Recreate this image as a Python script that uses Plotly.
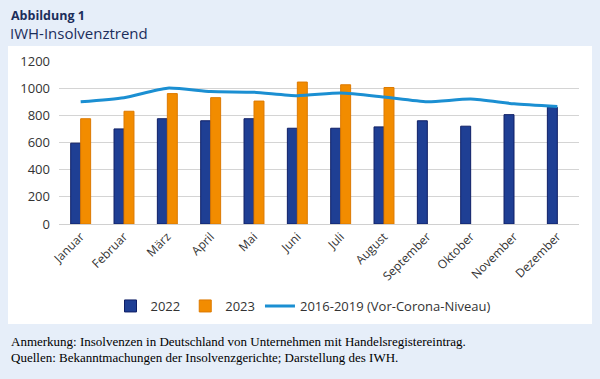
import plotly.graph_objects as go

months = ["Januar", "Februar", "März", "April", "Mai", "Juni", "Juli",
          "August", "September", "Oktober", "November", "Dezember"]
v2022 = [595, 700, 775, 760, 775, 705, 705, 715, 760, 720, 805, 860]
v2023 = [775, 830, 960, 930, 905, 1045, 1025, 1005, None, None, None, None]
vor_corona = [900, 930, 1000, 975, 970, 945, 965, 935, 900, 920, 885, 865]
y_ticks = [0, 200, 400, 600, 800, 1000, 1200]

W, H = 600, 379
L, R, T, B = 59, 21, 61, 155
pw, ph = W - L - R, H - T - B


def px(x):
    return (x - L) / pw


def py(y):
    return (H - B - y) / ph


FONT = "Open Sans"
TXT = "#333333"

fig = go.Figure()
fig.add_trace(go.Bar(
    x=months, y=v2022, name="2022",
    marker=dict(color="#1f3f94", line=dict(color="#0f1f66", width=1)),
))
fig.add_trace(go.Bar(
    x=months, y=v2023, name="2023",
    marker=dict(color="#f28c00", line=dict(color="#dd7a00", width=1)),
))
fig.add_trace(go.Scatter(
    x=months, y=vor_corona, name="2016-2019 (Vor-Corona-Niveau)",
    mode="lines", line=dict(color="#1b8fd2", width=3, shape="spline", smoothing=0.6),
))

fig.update_layout(
    width=W, height=H,
    margin=dict(l=L, r=R, t=T, b=B),
    paper_bgcolor="#e6eef9",
    plot_bgcolor="white",
    barmode="group",
    bargap=0.54,
    bargroupgap=0,
    font=dict(family=FONT, size=12, color=TXT),
    showlegend=True,
    legend=dict(
        orientation="h", x=px(303), xanchor="center", y=py(306), yanchor="middle",
        bgcolor="rgba(0,0,0,0)", font=dict(size=13, color=TXT),
        itemwidth=30, tracegroupgap=0,
    ),
    xaxis=dict(
        tickangle=-45, showgrid=False, ticks="", showline=True,
        linecolor="#d0d0d0", linewidth=1, tickfont=dict(size=12, color=TXT),
    ),
    yaxis=dict(
        range=[0, 1200], tickvals=y_ticks, showgrid=True, gridcolor="#d4d4d4",
        gridwidth=1, zeroline=False, showline=False, ticks="",
        tickfont=dict(size=13, color=TXT), ticklabelstandoff=8,
    ),
    shapes=[dict(
        type="rect", xref="paper", yref="paper", layer="below",
        x0=px(8), x1=px(592), y0=py(324), y1=py(46),
        fillcolor="white", line=dict(width=0),
    )],
    annotations=[
        dict(text="<b>Abbildung 1</b>", xref="paper", yref="paper",
             x=px(9), y=py(15), xanchor="left", yanchor="middle", showarrow=False,
             font=dict(family=FONT, size=12.5, color="#1b2d5b")),
        dict(text="IWH-Insolvenztrend", xref="paper", yref="paper",
             x=px(8), y=py(33), xanchor="left", yanchor="middle", showarrow=False,
             font=dict(family=FONT, size=15, color="#1b2d5b")),
        dict(text="Anmerkung: Insolvenzen in Deutschland von Unternehmen mit Handelsregistereintrag.",
             xref="paper", yref="paper", x=px(9), y=py(341), xanchor="left", yanchor="middle",
             showarrow=False, font=dict(family="Liberation Serif", size=13, color="#000000")),
        dict(text="Quellen: Bekanntmachungen der Insolvenzgerichte; Darstellung des IWH.",
             xref="paper", yref="paper", x=px(9), y=py(357), xanchor="left", yanchor="middle",
             showarrow=False, font=dict(family="Liberation Serif", size=13, color="#000000")),
    ],
)

fig.write_html("out.html", config={"displayModeBar": False},
               post_script="document.body.style.margin='0';")
